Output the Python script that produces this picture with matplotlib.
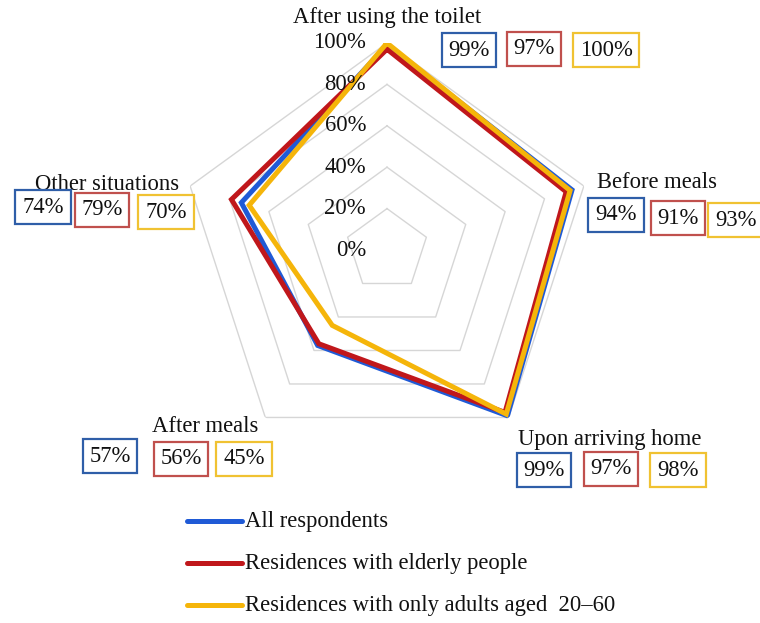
import numpy as np
import matplotlib
matplotlib.use("Agg")
import matplotlib.pyplot as plt

plt.rcParams['font.family'] = ['Liberation Serif', 'DejaVu Serif']

categories = ["After using the toilet", "Before meals", "Upon arriving home",
              "After meals", "Other situations"]
series_names = ["All respondents", "Residences with elderly people",
                "Residences with only adults aged  20\u201360"]
all_resp = [99, 94, 99, 57, 74]
elderly = [97, 91, 97, 56, 79]
adults = [100, 93, 98, 45, 70]
radial_ticks = [0, 20, 40, 60, 80, 100]
radial_labels = ["0%", "20%", "40%", "60%", "80%", "100%"]

line_colors = ["#1f5ad6", "#c0171b", "#f5b50a"]
box_colors = ["#2f5ea8", "#c0504d", "#f0c232"]
FS = 16.3

W, H = 760, 623
fig = plt.figure(figsize=(W / 100, H / 100), dpi=100)

# radar centre and radius in pixels
cx, cy, R = 387, 250, 207
ax = fig.add_axes([(cx - R) / W, (H - cy - R) / H, 2 * R / W, 2 * R / H],
                  projection='polar')
ax.set_theta_zero_location('N')
ax.set_theta_direction(-1)
ax.set_ylim(0, 100)
ax.set_xticks([])
ax.set_yticks([])
ax.grid(False)
ax.spines['polar'].set_visible(False)
ax.patch.set_alpha(0)

n = len(categories)
theta = np.linspace(0, 2 * np.pi, n, endpoint=False)
theta_closed = np.concatenate([theta, theta[:1]])

# pentagon grid
for level in radial_ticks[1:]:
    ax.plot(theta_closed, [level] * (n + 1), color="#d6d6d6", lw=1.0, zorder=1)

for vals, col in zip([all_resp, elderly, adults], line_colors):
    v = list(vals) + [vals[0]]
    ax.plot(theta_closed, v, color=col, lw=3.6, solid_joinstyle='miter', zorder=3)

# radial tick labels, right-aligned left of the vertical axis
for t, lab in zip(radial_ticks, radial_labels):
    y_px = cy - R * t / 100
    fig.text((cx - 21) / W, 1 - y_px / H, lab, ha='right', va='center',
             fontsize=FS, color="#111111", zorder=4)


def ptext(x, y, s, **kw):
    return fig.text(x / W, 1 - y / H, s, ha='center', va='center',
                    fontsize=FS, color="#111111", **kw)


# category labels
label_pos = [(387, 17), (657, 183), (610, 440), (205, 427), (107, 185)]
for (x, y), lab in zip(label_pos, categories):
    ptext(x, y, lab)

# boxed values per category
box_pos = [
    [(469, 50), (534, 49), (606, 50)],
    [(616, 215), (678, 218), (736, 220)],
    [(544, 470), (611, 469), (678, 470)],
    [(110, 456), (181, 459), (244, 459)],
    [(43, 207), (102, 210), (166, 212)],
]
for i in range(n):
    vals = [all_resp[i], elderly[i], adults[i]]
    for (x, y), v, ec in zip(box_pos[i], vals, box_colors):
        ptext(x, y, f"{v}%",
              bbox=dict(boxstyle='square,pad=0.3', fc='white', ec=ec, lw=1.6))

# legend
legend_y = [521, 563, 605]
for y, name, col in zip(legend_y, series_names, line_colors):
    fig.add_artist(plt.Line2D([187 / W, 242 / W], [1 - y / H, 1 - y / H],
                              color=col, lw=3.6, solid_capstyle='round'))
    fig.text(245 / W, 1 - y / H, name, ha='left', va='center',
             fontsize=FS, color="#111111")

fig.savefig("out.png", dpi=100, facecolor='white')
